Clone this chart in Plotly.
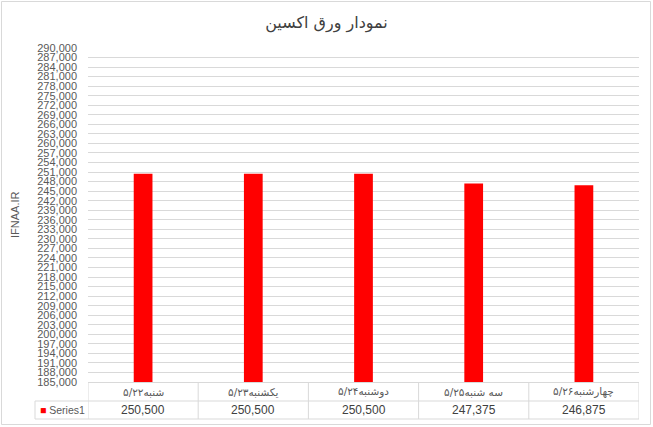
import plotly.graph_objects as go

# ── data ──────────────────────────────────────
categories = ["شنبه۵/۲۲", "یکشنبه۵/۲۳", "دوشنبه۵/۲۴", "سه شنبه۵/۲۵", "چهارشنبه۵/۲۶"]
values = [250500, 250500, 250500, 247375, 246875]
series_name = "Series1"
chart_title = "نمودار ورق اکسین"
y_title = "IFNAA.IR"
y_min, y_max, y_step = 185000, 290000, 3000

# ── layout geometry (pixels) ──────────────────
W, H = 653, 427
L, R, T, B = 88, 14, 48, 45
PW, PH = W - L - R, H - T - B

GRID = "#d9d9d9"
TEXT = "#595959"
FONT = "Liberation Sans, DejaVu Sans, Arial, sans-serif"
FA_FONT = "DejaVu Sans, sans-serif"


def px(x):
    return (x - L) / PW


def py(y):
    return (H - B - y) / PH


fig = go.Figure(go.Bar(
    x=list(range(len(categories))),
    y=values,
    width=0.17,
    marker=dict(color="#FF0000", line=dict(width=0)),
    name=series_name,
    showlegend=False,
))

shapes = []
annotations = []

# data table: row lines
for ypix in (401, 419):
    shapes.append(dict(type="line", xref="paper", yref="paper",
                       x0=px(35), x1=1, y0=py(ypix), y1=py(ypix),
                       line=dict(color=GRID, width=1)))
# data table: column lines at category boundaries
for k in range(len(categories) + 1):
    shapes.append(dict(type="line", xref="x", yref="paper",
                       x0=k - 0.5, x1=k - 0.5, y0=py(382), y1=py(419),
                       line=dict(color=GRID, width=1)))
# series label cell left edge
shapes.append(dict(type="line", xref="paper", yref="paper",
                   x0=px(35), x1=px(35), y0=py(401), y1=py(419),
                   line=dict(color=GRID, width=1)))
# outer chart border
shapes.append(dict(type="rect", xref="paper", yref="paper",
                   x0=px(1.5), x1=px(W - 2.5), y0=py(1.5), y1=py(H - 2.5),
                   line=dict(color=GRID, width=1)))

# category headers and values in the table
for i, (c, v) in enumerate(zip(categories, values)):
    annotations.append(dict(x=i, y=py(391.5), xref="x", yref="paper", text=c,
                            xanchor="center", yanchor="middle", showarrow=False,
                            font=dict(size=10.5, color=TEXT, family=FA_FONT)))
    annotations.append(dict(x=i, y=py(410), xref="x", yref="paper", text=f"{v:,}",
                            xanchor="center", yanchor="middle", showarrow=False,
                            font=dict(size=12, color="#404040", family=FONT)))

annotations.append(dict(x=px(38), y=py(410), xref="paper", yref="paper",
                        xanchor="left", yanchor="middle",
                        text=f"<span style='color:#FF0000'>■</span> {series_name}",
                        showarrow=False, font=dict(size=10.5, color=TEXT, family=FONT)))

annotations.append(dict(x=px(15), y=py(215), xref="paper", yref="paper", text=y_title,
                        xanchor="center", yanchor="middle",
                        textangle=-90, showarrow=False,
                        font=dict(size=11, color=TEXT, family=FONT)))

fig.update_layout(
    width=W, height=H,
    margin=dict(l=L, r=R, t=T, b=B, pad=0),
    paper_bgcolor="white", plot_bgcolor="white",
    title=dict(text=chart_title, x=0.5, xanchor="center", y=1 - 22 / H, yanchor="middle",
               font=dict(size=16, color="#404040", family=FA_FONT)),
    xaxis=dict(range=[-0.5, len(categories) - 0.5], showticklabels=False,
               showgrid=False, zeroline=False, showline=True, linecolor=GRID, linewidth=1),
    yaxis=dict(range=[y_min, y_max], dtick=y_step, tick0=y_min, tickformat=",d",
               showgrid=True, gridcolor=GRID, gridwidth=1, zeroline=False,
               showline=False, ticks="", ticklabelstandoff=10,
               tickfont=dict(size=11, color=TEXT, family=FONT)),
    shapes=shapes,
    annotations=annotations,
    showlegend=False,
)

fig.write_html("out.html", config={"displayModeBar": False},
               post_script="document.body.style.margin='0';")
